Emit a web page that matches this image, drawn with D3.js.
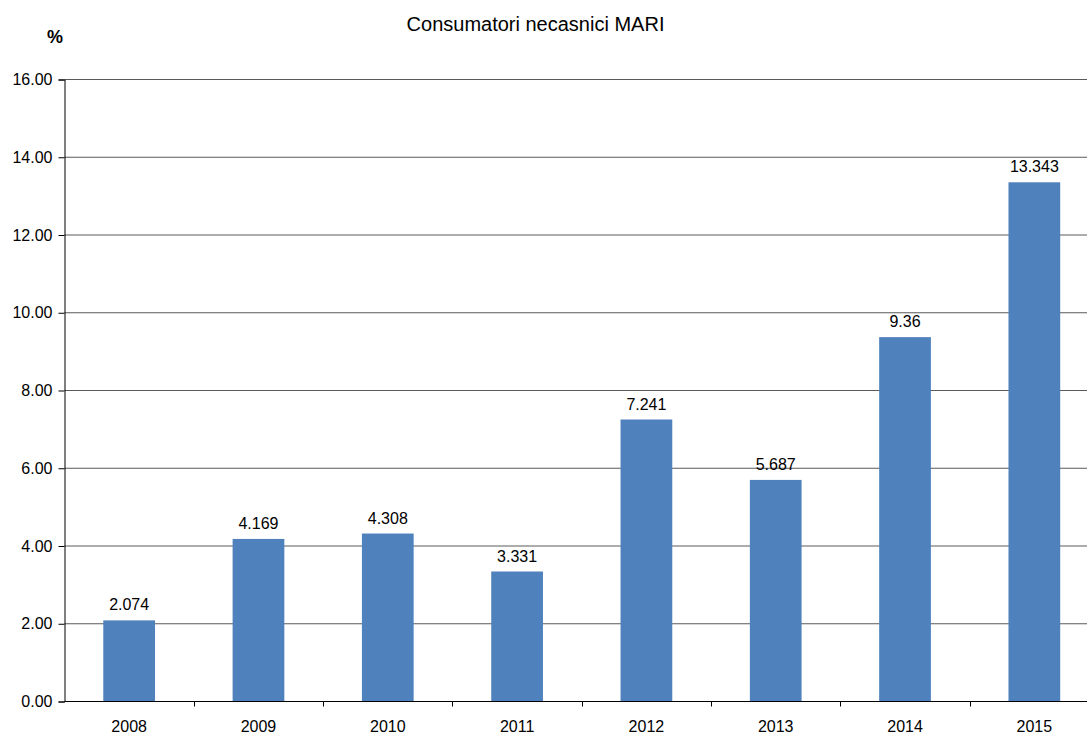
<!DOCTYPE html>
<html>
<head>
<meta charset="utf-8">
<script src="https://cdn.jsdelivr.net/npm/d3@7"></script>
<style>
  html, body { margin: 0; padding: 0; background: #fff; overflow: hidden; }
  svg { display: block; font-family: "Liberation Sans", Arial, sans-serif; }
</style>
</head>
<body>
<svg id="chart" width="1087" height="733"></svg>
<script>
// Share of large non-household consumers, by year (%)
const years = ["2008", "2009", "2010", "2011", "2012", "2013", "2014", "2015"];
const values = [2.074, 4.169, 4.308, 3.331, 7.241, 5.687, 9.36, 13.343];
const valueLabels = ["2.074", "4.169", "4.308", "3.331", "7.241", "5.687", "9.36", "13.343"];
const yTicks = [0, 2, 4, 6, 8, 10, 12, 14, 16];

const svg = d3.select("#chart");
const plotLeft = 64.5, plotTop = 79, plotBottom = 701, plotRight = 1099;
const labelFont = 16;

const x = d3.scaleBand().domain(years).range([plotLeft, plotRight]).paddingInner(0.6).paddingOuter(0.3);
const y = d3.scaleLinear().domain([0, 16]).range([plotBottom, plotTop]);

// horizontal gridlines
svg.append("g")
  .selectAll("line")
  .data(yTicks.filter(d => d > 0))
  .join("line")
  .attr("x1", plotLeft).attr("x2", 1087)
  .attr("y1", d => y(d) + 0.5).attr("y2", d => y(d) + 0.5)
  .attr("stroke", "#5a5a5a").attr("stroke-width", 1);

// bars
svg.append("g")
  .selectAll("rect")
  .data(years)
  .join("rect")
  .attr("x", (d) => x(d))
  .attr("width", x.bandwidth())
  .attr("y", (d, i) => y(values[i]))
  .attr("height", (d, i) => y(0) - y(values[i]))
  .attr("fill", "#4F81BD");

// value labels
svg.append("g")
  .selectAll("text")
  .data(years)
  .join("text")
  .attr("x", d => x(d) + x.bandwidth() / 2)
  .attr("y", (d, i) => y(values[i]) - 10)
  .attr("text-anchor", "middle")
  .attr("font-size", labelFont)
  .attr("fill", "#000")
  .text((d, i) => valueLabels[i]);

// y axis
const yAxis = d3.axisLeft(y).tickValues(yTicks).tickFormat(d3.format(".2f")).tickSize(6).tickPadding(6);
const gy = svg.append("g").attr("transform", `translate(${plotLeft},0.5)`).call(yAxis);
gy.select(".domain").attr("stroke", "#000");
gy.selectAll(".tick line").attr("stroke", "#000");
gy.selectAll(".tick text").attr("font-size", labelFont).attr("fill", "#000")
  .attr("font-family", "Liberation Sans, Arial, sans-serif");

// x axis: ticks at category boundaries
const gx = svg.append("g").attr("transform", `translate(0,${plotBottom + 0.5})`);
gx.append("line").attr("x1", plotLeft).attr("x2", 1087).attr("stroke", "#000");
const step = x.step();
gx.selectAll("line.tk")
  .data(d3.range(1, years.length))
  .join("line")
  .attr("class", "tk")
  .attr("x1", i => Math.round(plotLeft + i * step) + 0.5)
  .attr("x2", i => Math.round(plotLeft + i * step) + 0.5)
  .attr("y1", 0).attr("y2", 5)
  .attr("stroke", "#000");
gx.selectAll("text")
  .data(years)
  .join("text")
  .attr("x", d => x(d) + x.bandwidth() / 2)
  .attr("y", 30)
  .attr("text-anchor", "middle")
  .attr("font-size", labelFont)
  .attr("fill", "#000")
  .text(d => d);

// title and unit
svg.append("text")
  .attr("x", 535.5).attr("y", 31)
  .attr("text-anchor", "middle")
  .attr("font-size", 20)
  .attr("fill", "#000")
  .text("Consumatori necasnici MARI");

svg.append("text")
  .attr("x", 55).attr("y", 43)
  .attr("text-anchor", "middle")
  .attr("font-size", 18)
  .attr("font-weight", "bold")
  .attr("fill", "#000")
  .text("%");
</script>
</body>
</html>
